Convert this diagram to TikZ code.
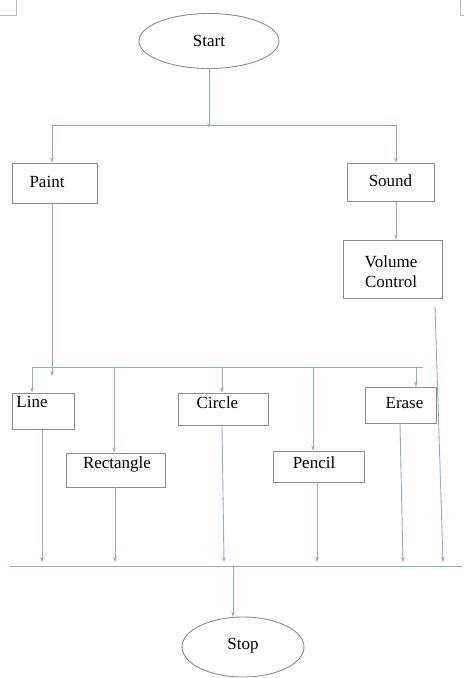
\documentclass[tikz,border=0pt]{standalone}
\usepackage{fontspec}
\setmainfont{Liberation Serif}
\usetikzlibrary{shapes.geometric,arrows.meta}
\definecolor{conn}{HTML}{94AACB}
\definecolor{edge}{HTML}{8C8C8C}
\tikzset{
  box/.style={draw=edge,line width=0.9pt,rectangle,inner sep=0pt},
  oval/.style={draw=edge,line width=0.9pt,ellipse,inner sep=0pt},
  txt/.style={inner sep=0pt,font=\fontsize{17}{20}\selectfont},
  wire/.style={draw=conn,line width=0.9pt},
  arr/.style={wire,-{Stealth[length=5pt,width=3.5pt]}},
}
\begin{document}
\begin{tikzpicture}[x=1pt,y=-1pt]
\useasboundingbox (0,0) rectangle (464,678);
% corner marks
\draw[black!25,line width=0.6pt] (16,0) -- (16,15) -- (0,15);
\draw[black!25,line width=0.6pt] (460,0) -- (460,15) -- (464,15);
% shapes
\node[oval,minimum width=140,minimum height=55] (start) at (209,41) {};
\node[txt] (startt) at (209,41) {Start};
\node[box,minimum width=85,minimum height=40] (paint) at (54.5,183) {};
\node[txt] (paintt) at (47,182) {Paint};
\node[box,minimum width=87,minimum height=38] (sound) at (390.5,182) {};
\node[txt] (soundt) at (390.5,181) {Sound};
\node[box,minimum width=99,minimum height=58] (vol) at (392.5,269) {};
\node[txt,align=center] (volt) at (391,272) {Volume\\Control};
\node[box,minimum width=62,minimum height=36] (line) at (43,411) {};
\node[txt] (linet) at (32,402) {Line};
\node[box,minimum width=99,minimum height=34] (rect) at (115.5,470) {};
\node[txt] (rectt) at (117,464) {Rectangle};
\node[box,minimum width=90,minimum height=32] (circ) at (223,409) {};
\node[txt] (circt) at (217.5,403) {Circle};
\node[box,minimum width=91,minimum height=31] (penc) at (318.5,466.5) {};
\node[txt] (venct) at (314,463) {Pencil};
\node[box,minimum width=71,minimum height=36] (erase) at (400.5,405) {};
\node[txt] (eraset) at (404.5,403) {Erase};
\node[oval,minimum width=122,minimum height=60] (stop) at (243,647) {};
\node[txt] (stopt) at (243,646) {Stop};
% junction coordinates
\coordinate (j1) at (209,125);
\coordinate (jl) at (52,125);
\coordinate (jr) at (396,125);
\coordinate (k1) at (52,367);
\coordinate (kl) at (32,367);
\coordinate (kr) at (423,367);
\coordinate (bl) at (10,566);
\coordinate (br) at (462,566);
\coordinate (bs) at (233,566);
% connectors
\draw[arr] (start.south) -- ([yshift=-3]j1);
\draw[wire] (jl) -- (jr);
\draw[arr] (jl) -- (paint.north -| jl);
\draw[arr] (jr) -- (sound.north -| jr);
\draw[arr] (sound.south -| jr) -- (vol.north -| jr);
\draw[arr] (paint.south -| jl) -- ([yshift=-9]k1);
\draw[wire] (kl) -- (kr);
\draw[arr] (kl) -- (line.north -| kl);
\draw[arr] (114,367) -- (rect.north -| 114,0);
\draw[arr] (222,367) -- (circ.north -| 222,0);
\draw[arr] (313,367) -- (penc.north -| 313,0);
\draw[arr] (416,367) -- (erase.north -| 416,0);
\draw[arr] (435,307) -- (443,562);
\draw[arr] (line.south -| 42,0) -- (42,562);
\draw[arr] (rect.south -| 115,0) -- (115,562);
\draw[arr] (circ.south -| 222,0) -- (224,562);
\draw[arr] (penc.south -| 317,0) -- (317,562);
\draw[arr] (erase.south -| 400,0) -- (403,562);
\draw[wire] (bl) -- (br);
\draw[arr] (bs) -- (stop.north -| bs);
\end{tikzpicture}
\end{document}
